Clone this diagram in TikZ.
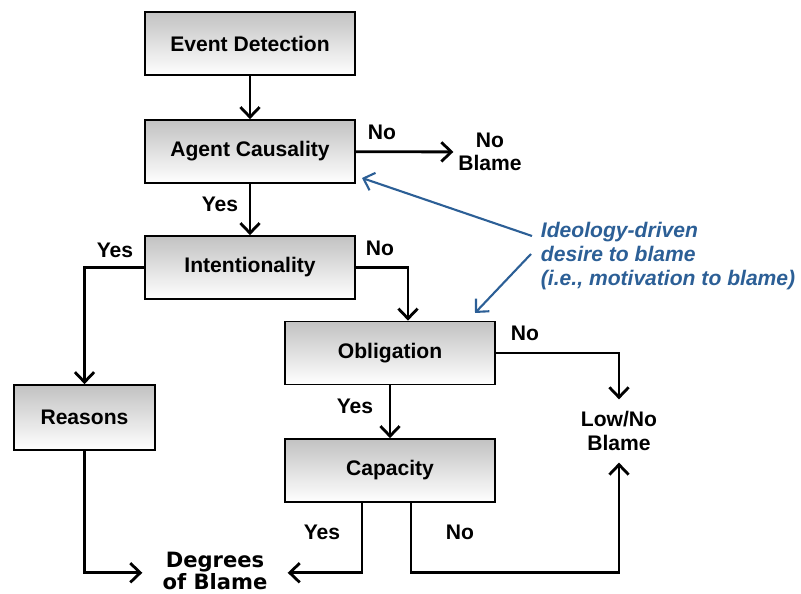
\documentclass[tikz,border=0pt]{standalone}
\usepackage{fontspec}
\setmainfont{Liberation Sans}
\newfontfamily\heavyfont{DejaVu Sans}
\usetikzlibrary{arrows.meta,shadows}

\definecolor{ideoblue}{RGB}{44,95,150}

\begin{document}
\begin{tikzpicture}
[font=\fontsize{15}{16.5}\selectfont\bfseries,
  mybox/.style={rectangle, draw=black, line width=1.2pt, minimum width=5.25cm, minimum height=1.575cm,
    top color=black!24, bottom color=white,
    drop shadow={shadow xshift=0.7pt, shadow yshift=-0.7pt, opacity=0.35}},
  myarrow/.style={draw=black, line width=2pt, -{Straight Barb[length=2.5mm, width=4.8mm, line width=2pt]}},
  mybluearrow/.style={draw=ideoblue, line width=1.5pt, -{Straight Barb[length=2.4mm, width=4.6mm, line width=1.5pt]}},
  myend/.style={align=center},
  mylabel/.style={inner sep=0pt}
]
  \useasboundingbox (0,0) rectangle (20.025,14.85);

  % decision boxes
  \node[mybox] (event) at (6.25,13.7625) {Event Detection};
  \node[mybox] (agent) at (6.25,11.0625) {Agent Causality};
  \node[mybox] (intent) at (6.25,8.1625) {Intentionality};
  \node[mybox] (oblig) at (9.75,6.025) {Obligation};
  \node[mybox] (capac) at (9.75,3.0875) {Capacity};
  \node[mybox, minimum width=3.525cm, minimum height=1.625cm] (reasons) at (2.1125,4.4125) {Reasons};

  % outcomes
  \node[myend] (noblame) at (12.25,11.05) {No\\Blame};
  \node[myend, inner sep=0.3cm] (lowno) at (15.475,4.075) {Low/No\\Blame};
  \node[myend, inner xsep=0.5cm, font=\fontsize{15}{16}\selectfont\heavyfont\bfseries] (degrees) at (5.375,0.58) {Degrees\\of Blame};

  % motivation
  \node[anchor=west, align=left, text=ideoblue, font=\fontsize{15}{17}\selectfont\bfseries\itshape] (ideo) at (13.4,8.45)
    {Ideology-driven\\desire to blame\\(i.e., motivation to blame)};

  % branch labels
  \node[mylabel] (agentno) at (9.55,11.55) {No};
  \node[mylabel] (agentyes) at (5.5,9.75) {Yes};
  \node[mylabel] (intentyes) at (2.875,8.6) {Yes};
  \node[mylabel] (intentno) at (9.5,8.65) {No};
  \node[mylabel] (obligno) at (13.125,6.525) {No};
  \node[mylabel] (obligyes) at (8.875,4.7) {Yes};
  \node[mylabel] (capacyes) at (8.05,1.55) {Yes};
  \node[mylabel] (capacno) at (11.5,1.55) {No};

  % flow
  \draw[myarrow] (event) -- (agent);
  \draw[myarrow] (agent) -- (noblame);
  \draw[myarrow] (agent) -- (intent);
  \draw[myarrow] (intent.west) -| (reasons.north);
  \draw[myarrow] (intent.east) -| ([xshift=0.45cm]oblig.north);
  \draw[myarrow] (oblig.east) -| (lowno.north);
  \draw[myarrow] (oblig) -- (capac);
  \draw[myarrow] ([xshift=-0.7cm]capac.south) |- ([yshift=-0.05cm]degrees.east);
  \draw[myarrow] ([xshift=0.525cm]capac.south) |- ([yshift=-0.05cm]degrees.east -| lowno) -- (lowno.south);
  \draw[myarrow] (reasons.south) |- ([yshift=-0.05cm]degrees.west);

  % motivation arrows
  \coordinate (ideotipa) at (9.05,10.4);
  \coordinate (ideotipb) at (11.875,7.025);
  \draw[mybluearrow] ([shift={(-0.1,0.5)}]ideo.west) -- (ideotipa);
  \draw[mybluearrow] ([shift={(-0.125,0.05)}]ideo.west) -- (ideotipb);
\end{tikzpicture}
\end{document}
